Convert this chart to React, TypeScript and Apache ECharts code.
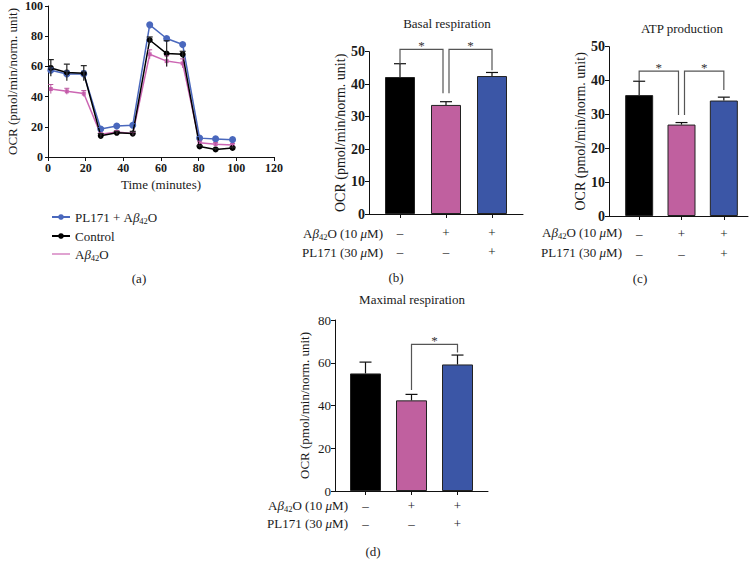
import React, { useEffect, useRef } from "react";
import * as echarts from "echarts";

const FONT = '"Liberation Serif", "Times New Roman", serif';
const TXT = "#1a1a1a";

// ---------- Panel (a): OCR time course ----------
const times = [1.5, 10, 19, 28, 36.5, 45, 54, 63, 71.5, 80.5, 89, 98];
const plSeries = [57.5, 55, 55, 18.5, 20.5, 21, 87.5, 78.5, 74.5, 12.5, 12, 11.5];
const plErr = [1.5, 2, 2, 1, 1, 1, 1, 1, 1, 1, 1, 1];
const controlSeries = [59, 56, 55.5, 14, 16, 15.5, 77.5, 68.5, 68, 7, 5, 6];
const controlErr = [5.5, 5.5, 5, 1.5, 1, 1.5, 2, 8.5, 2, 0.5, 0.5, 0.5];
const abetaSeries = [45, 43.5, 42, 15, 16.5, 15.5, 68, 63.5, 62, 9.5, 8.5, 8];
const abetaErr = [3, 2, 2, 1, 1, 1, 3, 3.5, 3, 1, 1, 1];
const legendNames = ["PL171 + A\u03b242O", "Control", "A\u03b242O"];

// ---------- Bar panels ----------
const abetaRow = ["\u2013", "+", "+"];
const pl171Row = ["\u2013", "\u2013", "+"];
const barColors = ["#000000", "#c0609f", "#3b56a6"];

const basalMeans = [42.2, 33.6, 42.5];
const basalErr = [4.1, 1.0, 1.1];
const atpMeans = [35.7, 27.0, 34.1];
const atpErr = [4.1, 0.6, 1.0];
const maxMeans = [55.0, 42.4, 59.2];
const maxErr = [5.3, 2.8, 4.4];

// significance brackets: [fromIndex, toIndex, topValue, leftLegEnd, rightLegEnd]
const basalSig = [
  [0, 1, 50.7, 46.3, 37.2],
  [1, 2, 50.7, 37.2, 44.3],
];
const atpSig = [
  [0, 1, 42.8, 39.9, 29.8],
  [1, 2, 42.8, 29.8, 37.2],
];
const maxSig = [[1, 2, 68.6, 47.3, 64.8]];

const cats = abetaRow.map((a, i) => a + "\n" + pl171Row[i]);

const richDef = {
  n: { fontFamily: FONT, fontSize: 13, color: TXT },
  i: { fontFamily: FONT, fontSize: 13, fontStyle: "italic", color: TXT },
  s: { fontFamily: FONT, fontSize: 8.5, color: TXT, padding: [7, 0, 0, 0] },
};

function abetaRich(name: string) {
  return name.replace("A\u03b242O", "{n|A}{i|\u03b2}{s|42}{n|O}");
}

function errBarSeries(
  points: number[][],
  color: string,
  xi: number,
  yi: number,
  cap: number,
  lw: number
) {
  return {
    type: "custom",
    xAxisIndex: xi,
    yAxisIndex: yi,
    z: 5,
    silent: true,
    data: points,
    renderItem: (params: any, api: any) => {
      const x = api.value(0);
      const p0 = api.coord([x, api.value(1)]);
      const p1 = api.coord([x, api.value(2)]);
      return {
        type: "group",
        children: [
          {
            type: "line",
            shape: { x1: p0[0], y1: p0[1], x2: p1[0], y2: p1[1] },
            style: { stroke: color, lineWidth: lw },
          },
          {
            type: "line",
            shape: { x1: p1[0] - cap, y1: p1[1], x2: p1[0] + cap, y2: p1[1] },
            style: { stroke: color, lineWidth: lw },
          },
        ],
      };
    },
  };
}

function bracketSeries(sig: number[][], xi: number, yi: number) {
  const shared = (idx: number) =>
    sig.filter((s) => s[0] === idx || s[1] === idx).length > 1;
  return {
    type: "custom",
    xAxisIndex: xi,
    yAxisIndex: yi,
    z: 6,
    silent: true,
    data: sig,
    renderItem: (params: any, api: any) => {
      const a = api.value(0);
      const b = api.value(1);
      const top = api.value(2);
      const pA = api.coord([a, top]);
      const pB = api.coord([b, top]);
      const x1 = pA[0] + (shared(a) ? 3 : 0);
      const x2 = pB[0] - (shared(b) ? 3 : 0);
      const yT = pA[1];
      const yL = api.coord([a, api.value(3)])[1];
      const yR = api.coord([b, api.value(4)])[1];
      return {
        type: "group",
        children: [
          {
            type: "polyline",
            shape: { points: [[x1, yL], [x1, yT], [x2, yT], [x2, yR]] },
            style: { stroke: "#555", fill: "none", lineWidth: 1.2 },
          },
          {
            type: "text",
            style: {
              text: "*",
              x: (x1 + x2) / 2,
              y: yT - 4,
              align: "center",
              verticalAlign: "middle",
              fontSize: 13,
              fontFamily: FONT,
              fill: "#333",
            },
          },
        ],
      };
    },
  };
}

type BarPanel = {
  wide: { left: number; top: number; width: number; height: number };
  narrowLeft: number;
  narrowWidth: number;
  max: number;
  interval: number;
  means: number[];
  errs: number[];
  sig: number[][];
  barWidth: number;
  tickSize: number;
  tickWeight: string;
  nameSize: number;
  nameGap: number;
  labelMargin: number;
  labelLineHeight: number;
};

const panels: BarPanel[] = [
  {
    wide: { left: 369, top: 51.7, width: 154, height: 162.3 },
    narrowLeft: 377,
    narrowWidth: 138,
    max: 50,
    interval: 10,
    means: basalMeans,
    errs: basalErr,
    sig: basalSig,
    barWidth: 30,
    tickSize: 14,
    tickWeight: "bold",
    nameSize: 14,
    nameGap: 20,
    labelMargin: 9,
    labelLineHeight: 19,
  },
  {
    wide: { left: 609, top: 46.7, width: 139, height: 169.3 },
    narrowLeft: 618,
    narrowWidth: 127,
    max: 50,
    interval: 10,
    means: atpMeans,
    errs: atpErr,
    sig: atpSig,
    barWidth: 28,
    tickSize: 14,
    tickWeight: "bold",
    nameSize: 14,
    nameGap: 21,
    labelMargin: 7,
    labelLineHeight: 20,
  },
  {
    wide: { left: 335, top: 320, width: 153, height: 171 },
    narrowLeft: 342.5,
    narrowWidth: 138,
    max: 80,
    interval: 20,
    means: maxMeans,
    errs: maxErr,
    sig: maxSig,
    barWidth: 31,
    tickSize: 13,
    tickWeight: "normal",
    nameSize: 13,
    nameGap: 24,
    labelMargin: 5,
    labelLineHeight: 18,
  },
];

function buildOption() {
  const grid: any[] = [{ left: 48, top: 5, width: 226, height: 152 }];
  const axisLine = { show: true, lineStyle: { color: "#111", width: 1 } };
  const xAxis: any[] = [
    {
      type: "value",
      gridIndex: 0,
      min: 0,
      max: 120,
      interval: 20,
      axisLine,
      axisTick: { show: true, length: 4, lineStyle: { color: "#111" } },
      axisLabel: {
        fontFamily: FONT,
        fontSize: 12,
        fontWeight: "bold",
        color: TXT,
        margin: 5,
      },
      splitLine: { show: false },
      name: "Time (minutes)",
      nameLocation: "middle",
      nameGap: 21,
      nameTextStyle: { fontFamily: FONT, fontSize: 13, color: TXT },
    },
  ];
  const yAxis: any[] = [
    {
      type: "value",
      gridIndex: 0,
      min: 0,
      max: 100,
      interval: 20,
      axisLine,
      axisTick: { show: true, length: 3, lineStyle: { color: "#111" } },
      axisLabel: {
        fontFamily: FONT,
        fontSize: 12,
        fontWeight: "bold",
        color: TXT,
        margin: 5,
      },
      splitLine: { show: false },
      name: "OCR (pmol/min/norm. unit)",
      nameLocation: "middle",
      nameGap: 29,
      nameTextStyle: { fontFamily: FONT, fontSize: 13, color: TXT },
    },
  ];

  const series: any[] = [
    {
      name: legendNames[2],
      type: "line",
      xAxisIndex: 0,
      yAxisIndex: 0,
      data: times.map((t, i) => [t, abetaSeries[i]]),
      symbol: "rect",
      symbolSize: 4,
      itemStyle: { color: "#cc66b3" },
      lineStyle: { color: "#cc66b3", width: 1.5 },
      z: 2,
    },
    errBarSeries(
      times.map((t, i) => [t, abetaSeries[i] - abetaErr[i], abetaSeries[i] + abetaErr[i]]),
      "#b9579f",
      0,
      0,
      2.5,
      1
    ),
    {
      name: legendNames[0],
      type: "line",
      xAxisIndex: 0,
      yAxisIndex: 0,
      data: times.map((t, i) => [t, plSeries[i]]),
      symbol: "circle",
      symbolSize: 7,
      itemStyle: { color: "#4a68bd" },
      lineStyle: { color: "#4a68bd", width: 1.5 },
      z: 3,
    },
    errBarSeries(
      times.map((t, i) => [t, plSeries[i] - plErr[i], plSeries[i] + plErr[i]]),
      "#4a68bd",
      0,
      0,
      2.5,
      1
    ),
    {
      name: legendNames[1],
      type: "line",
      xAxisIndex: 0,
      yAxisIndex: 0,
      data: times.map((t, i) => [t, controlSeries[i]]),
      symbol: "circle",
      symbolSize: 6,
      itemStyle: { color: "#000" },
      lineStyle: { color: "#000", width: 1.5 },
      z: 4,
    },
    errBarSeries(
      times.map((t, i) => [t, controlSeries[i] - controlErr[i], controlSeries[i] + controlErr[i]]),
      "#222",
      0,
      0,
      3,
      1.2
    ),
  ];

  panels.forEach((p, k) => {
    const gWide = grid.length;
    grid.push({ ...p.wide });
    const gNarrow = grid.length;
    grid.push({
      left: p.narrowLeft,
      top: p.wide.top,
      width: p.narrowWidth,
      height: p.wide.height,
    });
    xAxis.push({
      type: "value",
      gridIndex: gWide,
      min: 0,
      max: 1,
      axisLine,
      axisTick: { show: false },
      axisLabel: { show: false },
      splitLine: { show: false },
    });
    const xn = xAxis.length;
    xAxis.push({
      type: "category",
      gridIndex: gNarrow,
      data: cats,
      axisLine: { show: false },
      axisTick: {
        show: true,
        alignWithLabel: true,
        length: 4,
        lineStyle: { color: "#111" },
      },
      axisLabel: {
        fontFamily: FONT,
        fontSize: 13,
        color: TXT,
        margin: p.labelMargin,
        lineHeight: p.labelLineHeight,
        interval: 0,
      },
    });
    yAxis.push({
      type: "value",
      gridIndex: gWide,
      min: 0,
      max: p.max,
      interval: p.interval,
      axisLine,
      axisTick: { show: true, length: 4, lineStyle: { color: "#111" } },
      axisLabel: {
        fontFamily: FONT,
        fontSize: p.tickSize,
        fontWeight: p.tickWeight,
        color: TXT,
        margin: 4,
      },
      splitLine: { show: false },
      name: "OCR (pmol/min/norm. unit)",
      nameLocation: "middle",
      nameGap: p.nameGap,
      nameTextStyle: { fontFamily: FONT, fontSize: p.nameSize, color: TXT },
    });
    const yn = yAxis.length;
    yAxis.push({
      type: "value",
      gridIndex: gNarrow,
      min: 0,
      max: p.max,
      show: false,
    });
    series.push({
      name: "bars" + k,
      type: "bar",
      xAxisIndex: xn,
      yAxisIndex: yn,
      barWidth: p.barWidth,
      data: p.means.map((m, i) => ({
        value: m,
        itemStyle: { color: barColors[i], borderColor: "#222", borderWidth: 1 },
      })),
      z: 2,
    });
    series.push(
      errBarSeries(
        p.means.map((m, i) => [i, m, m + p.errs[i]]),
        "#111",
        xn,
        yn,
        6,
        1.2
      )
    );
    series.push(bracketSeries(p.sig, xn, yn));
  });

  const rowLabel = (x: number, y: number, text: string) => ({
    type: "text",
    x,
    y,
    style: {
      text,
      align: "right",
      verticalAlign: "middle",
      fontFamily: FONT,
      fontSize: 13,
      fill: TXT,
      rich: richDef,
    },
  });
  const abetaLbl = "{n|A}{i|\u03b2}{s|42}{n|O (10 }{i|\u03bc}{n|M)}";
  const plLbl = "{n|PL171 (30 }{i|\u03bc}{n|M)}";
  const plain = (x: number, y: number, text: string, size = 13) => ({
    type: "text",
    x,
    y,
    style: {
      text,
      align: "center",
      verticalAlign: "middle",
      fontFamily: FONT,
      fontSize: size,
      fill: TXT,
    },
  });

  const graphic: any[] = [
    plain(139, 278, "(a)"),
    plain(396, 277, "(b)"),
    plain(640, 278, "(c)"),
    plain(373, 551, "(d)"),
    plain(447, 23, "Basal respiration"),
    plain(682, 28, "ATP production"),
    plain(412, 299, "Maximal respiration"),
    rowLabel(383, 233, abetaLbl),
    rowLabel(383, 252, plLbl),
    rowLabel(622, 232, abetaLbl),
    rowLabel(622, 252, plLbl),
    rowLabel(348, 505, abetaLbl),
    rowLabel(348, 523, plLbl),
  ];

  return {
    animation: false,
    backgroundColor: "#fff",
    grid,
    xAxis,
    yAxis,
    series,
    graphic,
    legend: {
      data: [
        { name: legendNames[0] },
        { name: legendNames[1] },
        { name: legendNames[2], icon: "path://M0,0H30V2H0Z" },
      ],
      orient: "vertical",
      left: 46,
      top: 205,
      itemGap: 4,
      itemWidth: 18,
      itemHeight: 7,
      symbolKeepAspect: true,
      selectedMode: false,
      formatter: (name: string) => abetaRich(name),
      textStyle: {
        fontFamily: FONT,
        fontSize: 13,
        color: TXT,
        lineHeight: 14,
        rich: richDef,
      },
    },
  };
}

export default function App() {
  const ref = useRef<HTMLDivElement>(null);
  useEffect(() => {
    if (!ref.current) return;
    const chart = echarts.init(ref.current, undefined, { renderer: "svg" });
    chart.setOption(buildOption() as any);
    return () => chart.dispose();
  }, []);
  return (
    <div
      ref={ref}
      style={{
        position: "absolute",
        left: 0,
        top: 0,
        width: 752,
        height: 569,
        background: "#fff",
      }}
    />
  );
}
